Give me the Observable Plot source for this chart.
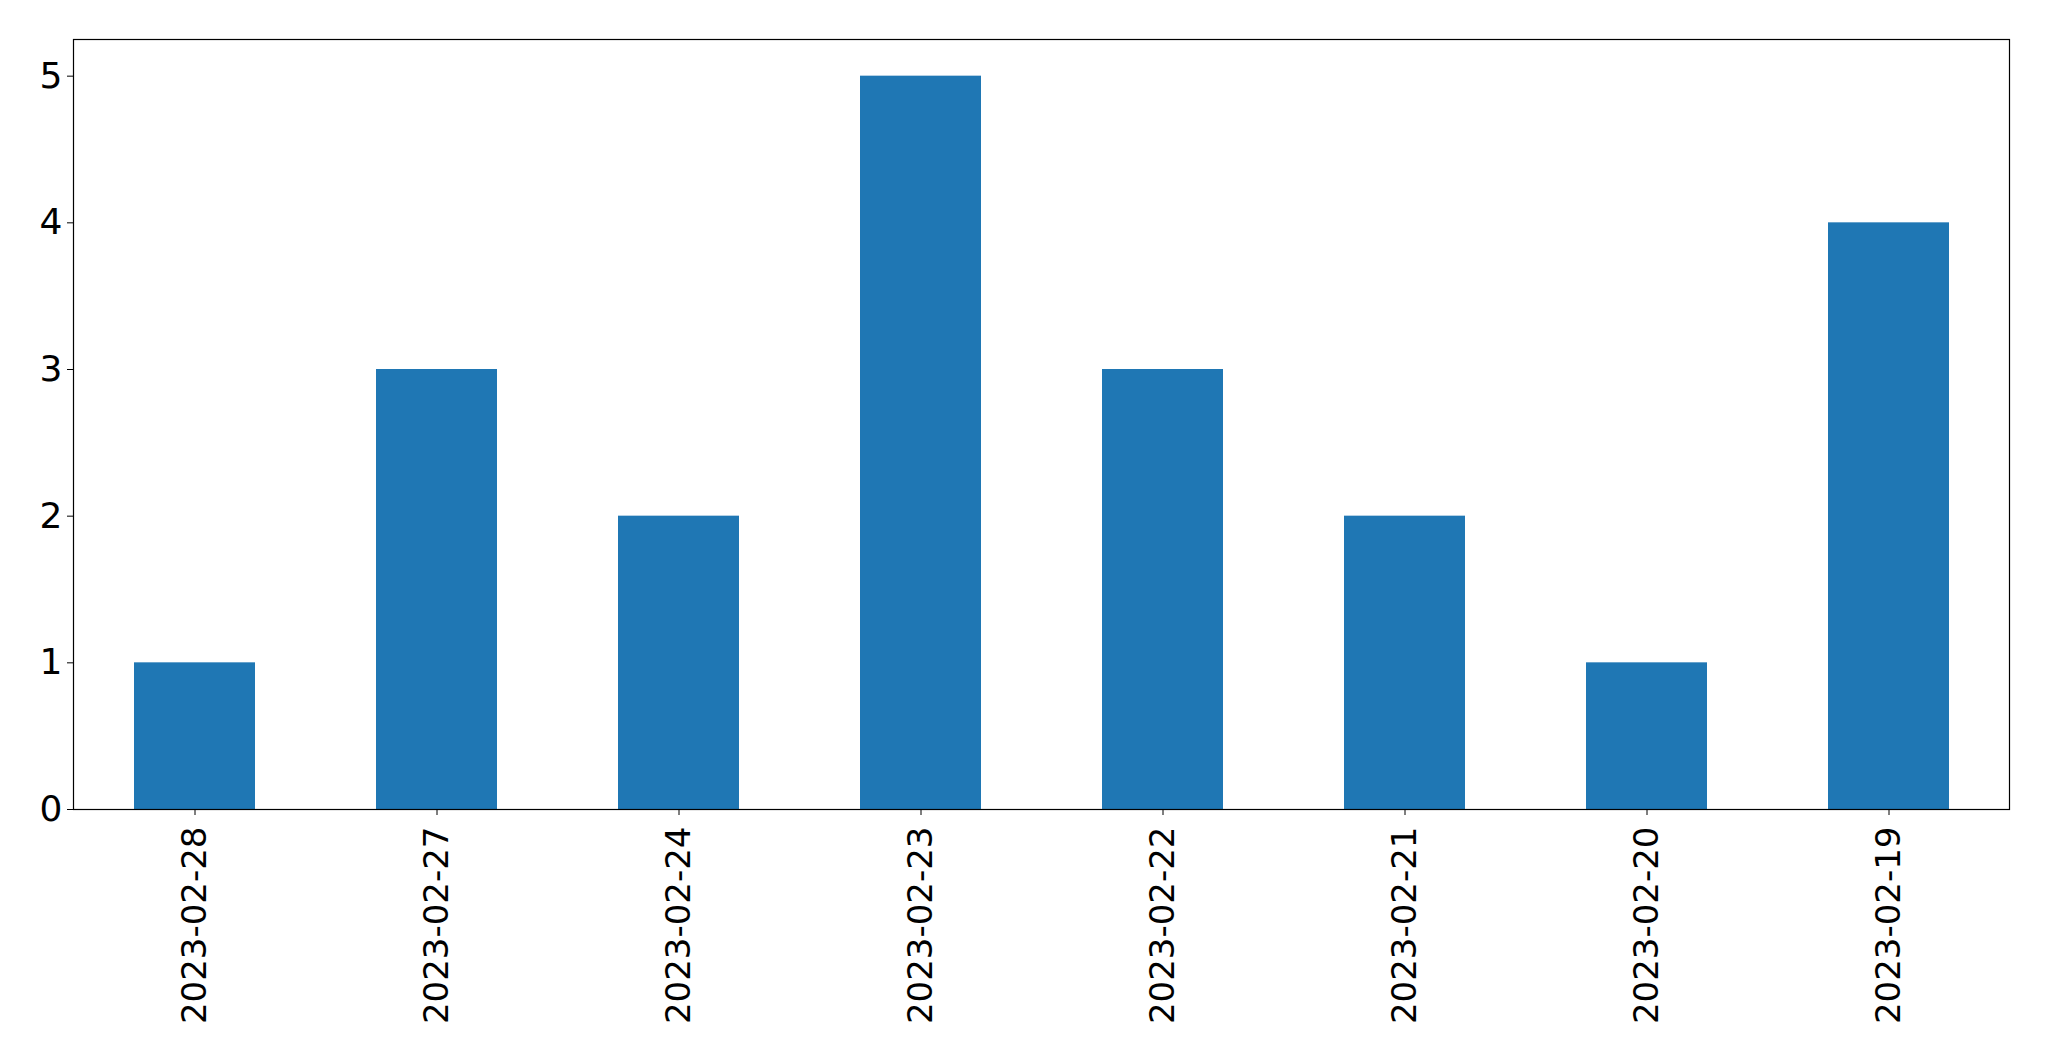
<!DOCTYPE html>
<html>
<head>
<meta charset="utf-8">
<script src="https://cdn.jsdelivr.net/npm/d3@7"></script>
<script src="https://cdn.jsdelivr.net/npm/@observablehq/plot@0.6"></script>
<style>
  html, body { margin: 0; padding: 0; background: #fff; }
  #chart svg { display: block; }
</style>
</head>
<body>
<div id="chart"></div>
<script>
const dates = ["2023-02-28", "2023-02-27", "2023-02-24", "2023-02-23", "2023-02-22", "2023-02-21", "2023-02-20", "2023-02-19"];
const counts = [1, 3, 2, 5, 3, 2, 1, 4];
const yTicks = [0, 1, 2, 3, 4, 5];

const data = dates.map((d, i) => ({date: d, count: counts[i]}));

const chart = Plot.plot({
  width: 2049,
  height: 1061,
  marginLeft: 73,
  marginRight: 40,
  marginTop: 39,
  marginBottom: 252,
  style: {fontFamily: "DejaVu Sans", fontSize: "35px", color: "#000", background: "#fff"},
  x: {domain: dates, type: "band", paddingInner: 0.5, paddingOuter: 0.25},
  y: {domain: [0, 5.25]},
  marks: [
    Plot.barY(data, {x: "date", y: "count", fill: "#1f77b4"}),
    Plot.axisX({label: null, tickRotate: -90, tickSize: 6, tickPadding: 11, fontSize: 34}),
    Plot.axisY({ticks: yTicks, tickFormat: "d", label: null, tickSize: 6, tickPadding: 5, fontSize: 36}),
    Plot.frame({stroke: "#000", strokeWidth: 1.2})
  ]
});
document.getElementById("chart").appendChild(chart);
</script>
</body>
</html>
